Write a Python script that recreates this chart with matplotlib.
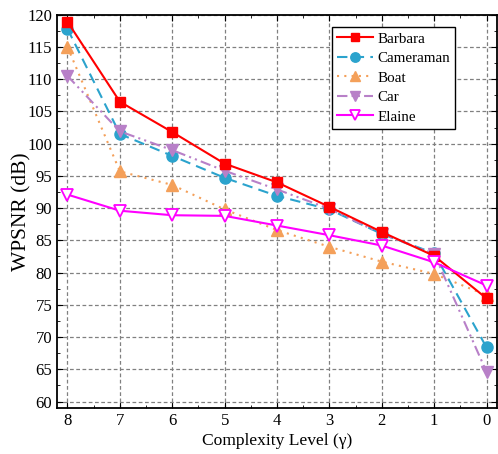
import matplotlib
matplotlib.use('Agg')
import matplotlib.pyplot as plt
from matplotlib.ticker import MultipleLocator

# complexity levels and WPSNR values per image
levels = [8, 7, 6, 5, 4, 3, 2, 1, 0]
barbara = [118.9, 106.5, 101.8, 96.9, 94.0, 90.2, 86.3, 82.6, 76.0]
cameraman = [117.8, 101.5, 98.1, 94.7, 91.9, 89.8, 86.0, 83.0, 68.4]
boat = [115.0, 95.7, 93.6, 89.8, 86.6, 84.0, 81.7, 79.8, 76.5]
car = [110.5, 101.9, 99.0, 95.8, 92.9, 89.9, 86.0, 82.9, 64.6]
elaine = [92.1, 89.6, 88.9, 88.8, 87.3, 85.8, 84.2, 81.6, 78.0]

plt.rcParams['font.family'] = ['Liberation Serif', 'DejaVu Serif']

fig = plt.figure(figsize=(4.98, 4.54), dpi=100)
ax = fig.add_axes([0.1145, 0.1013, 0.8835, 0.8663])

ax.plot(levels, barbara, color='#ff0000', ls='-', lw=1.5, marker='s', ms=7, label='Barbara', zorder=5)
ax.plot(levels, cameraman, color='#2ba3cd', ls=(0, (5, 3)), lw=1.5, marker='o', ms=8, label='Cameraman', zorder=4)
ax.plot(levels, boat, color='#f4a05a', ls=(0, (1, 2.5)), lw=1.5, marker='^', ms=8, label='Boat', zorder=3)
ax.plot(levels, car, color='#b880c8', ls=(0, (5, 2, 1, 2, 1, 2)), lw=1.5, marker='v', ms=8, label='Car', zorder=4)
ax.plot(levels, elaine, color='#ff00ff', ls='-', lw=1.5, marker='v', ms=8, mfc='white', mew=1.3,
        label='Elaine', zorder=6)

ax.set_xlim(8.2, -0.2)
ax.set_ylim(59, 120)
ax.xaxis.set_major_locator(MultipleLocator(1))
ax.xaxis.set_minor_locator(MultipleLocator(0.5))
ax.yaxis.set_major_locator(MultipleLocator(5))
ax.yaxis.set_minor_locator(MultipleLocator(2.5))
ax.tick_params(which='both', direction='in', top=True, right=True, labelsize=12)
ax.tick_params(which='major', length=4)
ax.tick_params(which='minor', length=2)
ax.grid(True, which='major', color='#808080', ls=(0, (3, 2)), lw=0.9)
for s in ax.spines.values():
    s.set_linewidth(1.3)

ax.set_xlabel('Complexity Level (\u03b3)', fontsize=12.6, labelpad=3)
ax.set_ylabel('WPSNR (dB)', fontsize=15.5, labelpad=-3)

leg = ax.legend(loc='upper right', bbox_to_anchor=(0.905, 0.969), borderaxespad=0, fontsize=10.8,
                fancybox=False, framealpha=1, edgecolor='black', handlelength=2.35, borderpad=0.35,
                labelspacing=0.4, handletextpad=0.3, markerscale=0.85)
leg.get_frame().set_linewidth(1.0)

fig.savefig('out.png', dpi=100)
